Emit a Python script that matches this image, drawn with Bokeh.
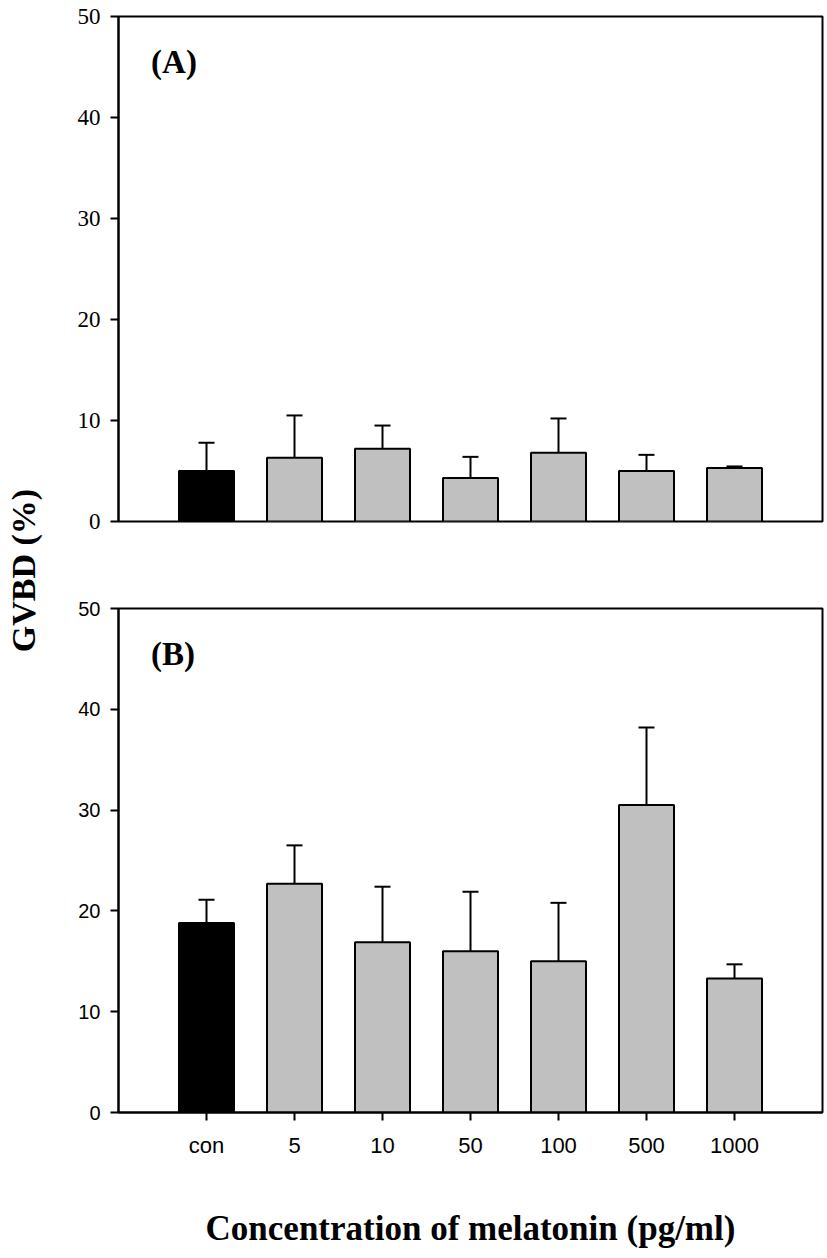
import numpy as np
from bokeh.plotting import figure
from bokeh.models import (ColumnDataSource, Range1d, FixedTicker, Whisker,
                          TeeHead, Label)
from bokeh.layouts import row, column
from bokeh.embed import file_html
from bokeh.resources import INLINE

# ---------------- data ----------------
categories = ["con", "5", "10", "50", "100", "500", "1000"]
gvbd_a = [5.0, 6.3, 7.2, 4.3, 6.8, 5.0, 5.3]
err_a = [2.8, 4.2, 2.3, 2.1, 3.4, 1.6, 0.15]
gvbd_b = [18.8, 22.7, 16.9, 16.0, 15.0, 30.5, 13.3]
err_b = [2.3, 3.8, 5.5, 5.9, 5.8, 7.7, 1.4]
y_ticks = [0, 10, 20, 30, 40, 50]
bar_colors = ["black"] + ["#c0c0c0"] * 6
panel_letters = ["(A)", "(B)"]
x_title = "Concentration of melatonin (pg/ml)"
y_title = "GVBD (%)"

positions = list(np.arange(1, len(categories) + 1))


def make_panel(values, errs, letter, tick_font, tick_size, show_x,
               height, border_top, border_bottom):
    src = ColumnDataSource(dict(
        x=positions, top=values,
        upper=[v + e for v, e in zip(values, errs)],
        color=bar_colors))
    p = figure(width=776, height=height, output_backend="svg",
               toolbar_location=None,
               x_range=Range1d(0, len(categories) + 1),
               y_range=Range1d(0, 50),
               x_axis_type="linear" if show_x else None,
               min_border_left=68, min_border_right=4,
               min_border_top=border_top, min_border_bottom=border_bottom)
    p.grid.visible = False
    p.outline_line_color = "black"
    p.outline_line_width = 2
    p.outline_line_alpha = 1.0
    p.background_fill_color = "white"
    p.border_fill_color = "white"

    p.vbar(x="x", top="top", bottom=0, width=0.625, source=src,
           fill_color="color", line_color="black", line_width=2)
    wh = Whisker(base="x", lower="top", upper="upper", source=src,
                 dimension="height", line_color="black", line_width=2,
                 upper_head=TeeHead(size=16, line_width=2, line_color="black"),
                 lower_head=None)
    p.add_layout(wh)

    ya = p.yaxis[0]
    ya.ticker = FixedTicker(ticks=y_ticks)
    ya.minor_tick_line_color = None
    ya.major_tick_out = 8
    ya.major_tick_in = 0
    ya.axis_line_width = 2
    ya.major_tick_line_width = 2
    ya.major_label_text_font = tick_font
    ya.major_label_text_font_size = tick_size
    ya.major_label_text_color = "black"
    ya.major_label_standoff = 10

    if show_x:
        xa = p.xaxis[0]
        xa.ticker = FixedTicker(ticks=positions)
        xa.major_label_overrides = {int(k): c for k, c in zip(positions, categories)}
        xa.minor_tick_line_color = None
        xa.major_tick_out = 8
        xa.major_tick_in = 0
        xa.axis_line_width = 2
        xa.major_tick_line_width = 2
        xa.major_label_text_font = "Liberation Sans"
        xa.major_label_text_font_size = "22px"
        xa.major_label_text_color = "black"
        xa.major_label_standoff = 12
        xa.axis_label = x_title
        xa.axis_label_text_font = "Liberation Serif"
        xa.axis_label_text_font_style = "bold"
        xa.axis_label_text_font_size = "35px"
        xa.axis_label_text_color = "black"
        xa.axis_label_standoff = 48

    p.add_layout(Label(x=0.37, y=45.5, text=letter,
                       text_font="Liberation Serif", text_font_style="bold",
                       text_font_size="33px", text_color="black",
                       text_baseline="alphabetic", text_align="left"))
    return p


top = make_panel(gvbd_a, err_a, panel_letters[0], "Liberation Serif", "23px",
                 False, 560, 16, 39)
bottom = make_panel(gvbd_b, err_b, panel_letters[1], "Liberation Sans", "20px",
                    True, 690, 48, 137)

lab = figure(width=50, height=1140, output_backend="svg", toolbar_location=None,
             x_range=Range1d(0, 1), y_range=Range1d(0, 1),
             x_axis_type=None, y_axis_type=None, min_border=0)
lab.grid.visible = False
lab.outline_line_color = None
lab.border_fill_color = "white"
lab.background_fill_color = "white"
lab.add_layout(Label(x=0.46, y=0.5, text=y_title, angle=np.pi / 2,
                     text_font="Liberation Serif", text_font_style="bold",
                     text_font_size="34px", text_color="black",
                     text_align="center", text_baseline="alphabetic"))

layout = row(lab, column(top, bottom))
open("out.html", "w").write(file_html(layout, INLINE))
